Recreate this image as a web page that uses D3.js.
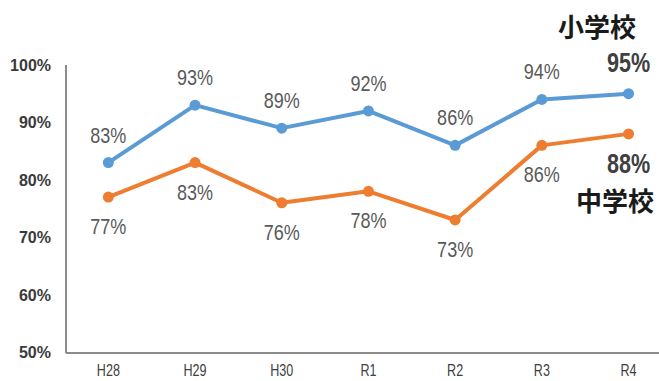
<!DOCTYPE html>
<html><head><meta charset="utf-8">
<script src="https://cdn.jsdelivr.net/npm/d3@7"></script>
<style>body{margin:0;background:#fff}svg{display:block}</style>
</head><body><svg id="c" width="659" height="381"></svg>
<script>
const categories = ["H28","H29","H30","R1","R2","R3","R4"];
const elementary = [83,93,89,92,86,94,95];
const juniorHigh = [77,83,76,78,73,86,88];
const yTicks = [50,60,70,80,90,100];
const seriesNames = ["小学校","中学校"];

const svg = d3.select("#c");
const x0 = 66, step = 86.7;
const x = d3.scalePoint().domain(categories).range([x0+step/2-1, x0+step/2-1+step*6]);
const y = d3.scaleLinear().domain([50,100]).range([352,65]);

// axes
svg.append("line").attr("x1",x0).attr("x2",x0).attr("y1",y(100)).attr("y2",y(50)+1).attr("stroke","#8c8c8c").attr("stroke-width",2);
svg.append("line").attr("x1",x0).attr("x2",659).attr("y1",y(50)+1).attr("y2",y(50)+1).attr("stroke","#8c8c8c").attr("stroke-width",2);

const font = "'Liberation Sans',Arial,sans-serif";
function stext(g, tx, ty, sx, txt, size, weight, fill){
  g.append("text").attr("transform",`translate(${tx},${ty}) scale(${sx},1)`)
    .attr("text-anchor","middle").attr("font-family",font).attr("font-size",size)
    .attr("font-weight",weight).attr("fill",fill).text(txt);
}
yTicks.forEach(d=>{
  svg.append("text").attr("x",51).attr("y",y(d)+6).attr("text-anchor","end")
    .attr("font-family",font).attr("font-size",16).attr("font-weight","bold").attr("fill","#3a3a3a")
    .text(d+"%");
});
categories.forEach(c=>stext(svg, x(c), 376, 0.74, c, 17, "normal", "#404040"));

function drawSeries(vals,color,above){
  const line = d3.line().x((d,i)=>x(categories[i])).y(d=>y(d));
  svg.append("path").datum(vals).attr("d",line).attr("fill","none").attr("stroke",color).attr("stroke-width",4).attr("stroke-linejoin","round");
  svg.selectAll(null).data(vals).enter().append("circle")
    .attr("cx",(d,i)=>x(categories[i])).attr("cy",d=>y(d)).attr("r",5.5).attr("fill",color);
  vals.forEach((d,i)=>{
    const last = i===vals.length-1;
    const off = above ? (last?-22:-20) : (last?39:37);
    stext(svg, x(categories[i]), y(d)+off, last?0.8:0.82, d+"%", last?27:22, last?"bold":"normal", last?"#404040":"#595959");
  });
}
drawSeries(elementary,"#5B9BD5",true);
drawSeries(juniorHigh,"#ED7D31",false);

svg.append("text").attr("x",597).attr("y",37).attr("text-anchor","middle")
  .attr("font-family","'Noto Sans CJK JP',sans-serif").attr("font-size",26).attr("font-weight","bold").attr("fill","#1a1a1a").text(seriesNames[0]);
svg.append("text").attr("x",615).attr("y",211).attr("text-anchor","middle")
  .attr("font-family","'Noto Sans CJK JP',sans-serif").attr("font-size",26).attr("font-weight","bold").attr("fill","#1a1a1a").text(seriesNames[1]);
</script></body></html>
